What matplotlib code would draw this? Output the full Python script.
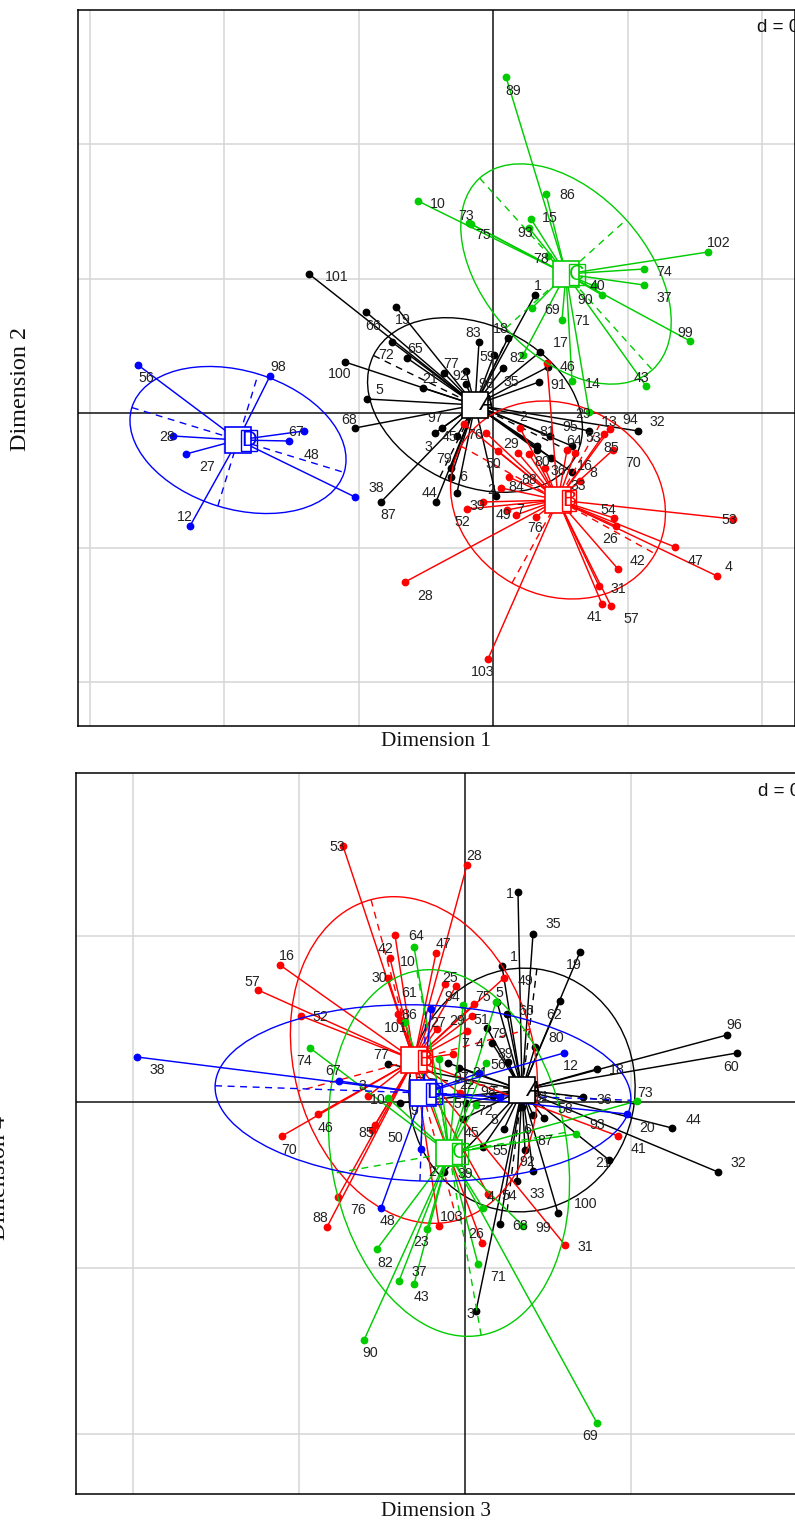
import numpy as np
import matplotlib
matplotlib.use("Agg")
import matplotlib.pyplot as plt
from matplotlib.patches import Ellipse

SANS = "Liberation Sans"
SERIF = "Liberation Serif"
BLACK, RED, GREEN, BLUE = "#000000", "#ff0000", "#00cc00", "#0000ff"
COLORS = [BLACK, RED, GREEN, BLUE]
LETTERS = ["A", "B", "C", "D"]

# ---- panel 1: Dimension 1 / Dimension 2 ----
a12_x = [-184,-127,-97,-101,-86,-148,-126,-70,-49,-27,-27,-14,15,1,10,47,55,46,42,-138,-51,-58,-36,-112,-57,-36,-42,-42,3,96,145,57,44,44,58,79,79]
a12_y = [139,101,106,71,55,51,14,25,40,42,29,71,75,58,45,61,46,31,118,-15,-15,-20,-23,-89,-89,-80,-64,-55,-83,-18,-18,-23,-33,-37,-45,-33,-59]
b12_x = [-29,-7,5,25,36,27,52,16,8,-10,-26,14,23,43,54,74,82,111,117,120,87,121,123,240,182,224,125,106,109,118,-88,-5]
b12_y = [-11,-20,-38,-40,-41,-15,-55,-64,-75,-89,-96,-97,-102,-104,50,-37,-40,-21,-16,-37,-68,-105,-113,-106,-134,-163,-156,-173,-191,-193,-169,-246]
c12_x = [13,53,-75,-22,-24,38,36,55,215,151,151,109,101,39,69,197,153,30,79,96]
c12_y = [336,219,212,189,190,194,185,157,161,144,128,118,127,105,93,72,27,58,32,1]
d12_x = [-355,-223,-189,-204,-320,-307,-138,-303]
d12_y = [48,37,-18,-28,-23,-41,-84,-113]
centres12 = [(-18,8),(65,-87),(73,139),(-255,-27)]
ellipses12 = [(113,80,-26),(111,95,-29),(129,81,-48),(111,69,-17)]
labels12_txt = ["101","66","19","65","72","100","5","21","77","92","83","59","18","1","35","91","17","46","14","82","98","68","97","3","79","6","44","38","87","52","39","49","7","76","84","88","50","29","2","81","95","64","53","13","94","32","85","70","16","8","33","36","80","54","26","53","47","4","42","31","41","57","28","103","2","45","76","89","86","10","73","75","15","93","78","102","74","37","90","40","69","71","99","43","29","56","98","67","28","27","48","12"]
labels12_x = [-156,-120,-90,-78,-107,-153,-114,-63,-42,-33,-20,-6,8,45,18,65,68,74,100,24,-7,-144,-58,-65,-49,-30,-63,-117,-105,-31,-16,10,27,42,23,36,0,18,30,54,77,81,100,117,137,164,118,140,92,100,85,65,49,115,117,236,202,236,145,125,102,138,-68,-10,-2,-43,-18,20,74,-55,-27,-10,57,32,48,226,171,171,92,104,59,89,192,148,90,-347,-215,-197,-326,-286,-182,-308]
labels12_y = [136,87,93,64,58,39,23,34,49,37,80,56,84,127,31,28,70,46,29,55,29,-7,-5,-34,-46,-64,-80,-75,-102,-109,-93,-102,-97,-115,-74,-67,-51,-31,-4,-19,-14,-28,-25,-9,-7,-9,-35,-50,-53,-60,-73,-58,-49,-97,-126,-107,-148,-154,-148,-176,-204,-206,-183,-259,-77,-24,-22,322,218,209,197,178,195,180,154,170,141,115,113,127,103,92,80,35,-1,35,46,-19,-24,-54,-42,-104]

# ---- panel 2: Dimension 3 / Dimension 4 ----
a34_x = [53,68,115,37,95,32,42,22,27,43,70,-17,-6,132,118,79,68,39,57,1,-2,18,60,68,52,-21,93,144,28,272,262,207,253,35,11,-77,-65]
a34_y = [210,168,150,136,101,100,88,74,59,40,55,39,34,33,5,-16,-13,-27,-5,-1,-17,-45,-48,-69,-79,-70,-111,-58,6,49,67,-26,-70,-122,-209,38,-1]
b34_x = [-122,2,-70,-29,-75,-185,-207,-77,-20,-9,39,9,7,2,-28,-12,-97,-147,-93,-90,-164,-5,-183,-138,-127,-26,17,100,153,23,-65,-67]
b34_y = [256,237,167,149,144,137,112,124,118,116,124,98,86,71,73,48,6,-12,-28,-23,86,9,-34,-125,-95,-124,-141,-143,-34,-92,82,88]
c34_x = [-51,-155,-101,-88,-66,-51,-38,13,132,18,58,111,172,21,11,-77,-2,-26,-60,31]
c34_y = [155,54,-238,-147,-179,-182,-127,-162,-321,-106,-124,-32,1,39,-3,4,97,43,80,100]
d34_x = [-328,-126,-34,-84,99,162,14,-44,35]
d34_y = [45,21,93,-106,49,-12,29,-47,5]
centres34 = [(57,12),(-51,42),(-16,-51),(-42,9)]
ellipses34 = [(122,113,83),(166,120,105),(185,118,100),(208,88,-2)]
labels34_txt = ["1","35","19","1","49","5","75","66","62","51","94","25","47","64","10","42","30","61","16","57","53","28","52","86","101","27","29","7","4","79","80","89","56","12","18","96","60","73","38","74","67","77","3","10","46","85","50","70","88","76","48","82","23","103","26","37","43","71","3","90","69","45","55","54","68","99","33","100","31","92","87","21","41","93","58","20","44","32","36","72","8","22","98","31","97","2","39","81","6","9","5","4"]
labels34_x = [45,88,109,49,60,34,18,61,89,16,-13,-15,-22,-49,-57,-80,-86,-56,-178,-213,-128,9,-145,-56,-69,-27,-8,0,15,34,91,40,33,106,152,269,266,180,-308,-161,-132,-84,-103,-87,-140,-99,-70,-176,-145,-107,-77,-80,-44,-13,11,-46,-44,33,5,-95,125,6,35,44,55,78,72,121,120,62,80,138,174,132,100,182,228,273,139,20,29,2,23,15,-4,-33,0,76,62,-51,-8,26]
labels34_y = [208,178,137,145,121,109,105,91,87,82,105,124,158,166,140,153,124,109,146,120,255,246,85,87,74,79,81,58,58,68,64,48,37,36,32,77,35,9,32,41,31,47,16,2,-26,-31,-36,-48,-116,-108,-119,-161,-140,-115,-132,-170,-195,-175,-212,-251,-334,-31,-49,-94,-124,-126,-92,-102,-145,-60,-39,-61,-47,-23,-7,-26,-18,-61,2,-9,-18,17,10,29,24,-70,-72,5,-28,-9,-2,-95]

# ---- layout of the two panels (pixels of the 795 x 1521 canvas) ----
W, H = 795, 1521
fig = plt.figure(figsize=(W/100, H/100), dpi=100)

def make_axes(left, top, right, bottom, xlim, ylim, step, xgrid, ygrid, xlabel, xl_xy, ylabel, yl_xy, d_xy):
    ax = fig.add_axes([left/W, 1-bottom/H, (right-left)/W, (bottom-top)/H])
    ax.set_xlim(*xlim); ax.set_ylim(*ylim)
    ax.set_xticks([]); ax.set_yticks([])
    for k in xgrid:
        ax.axvline(k*step, color="#d6d6d6", lw=1.1, zorder=1)
    for k in ygrid:
        ax.axhline(k*step, color="#d6d6d6", lw=1.1, zorder=1)
    ax.axvline(0, color="#111111", lw=1.1, zorder=2)
    ax.axhline(0, color="#111111", lw=1.1, zorder=2)
    for s in ax.spines.values():
        s.set_linewidth(1.1)
        s.set_zorder(20)
    fig.text(xl_xy[0]/W, 1-xl_xy[1]/H, xlabel, family=SERIF, fontsize=15.4, ha="center", va="center", color="#111111")
    fig.text(yl_xy[0]/W, 1-yl_xy[1]/H, ylabel, family=SERIF, fontsize=17.4, rotation=90, ha="center", va="center", color="#111111")
    ax.text(d_xy[0], d_xy[1], "d = 0.5", family=SANS, fontsize=13.5, ha="left", va="center", zorder=15, color="#111111", clip_on=False)
    return ax

def group(ax, i, xs, ys, centre, ell):
    col = COLORS[i]
    z = 3 + i
    cx, cy = centre
    for x, y in zip(xs, ys):
        ax.plot([cx, x], [cy, y], color=col, lw=1.05, zorder=z, solid_capstyle="round")
    ax.plot(xs, ys, ls="none", marker="o", ms=4.6, color=col, mec=col, zorder=z+0.1)
    a, b, ang = ell
    ax.add_patch(Ellipse((cx, cy), 2*a, 2*b, angle=ang, fill=False, ec=col, lw=1.0, zorder=z))
    t = np.deg2rad(ang)
    ax.plot([cx-a*np.cos(t), cx+a*np.cos(t)], [cy-a*np.sin(t), cy+a*np.sin(t)], color=col, lw=1.0, ls=(0, (5, 4)), zorder=z)
    ax.plot([cx+b*np.sin(t), cx-b*np.sin(t)], [cy-b*np.cos(t), cy+b*np.cos(t)], color=col, lw=1.0, ls=(0, (5, 4)), zorder=z)

def centres_on_top(ax, centres):
    for i, (cx, cy) in enumerate(centres):
        z = 10 + i
        ax.plot([cx], [cy], marker="s", ms=18.5, mfc="white", mec=COLORS[i], mew=1.2, zorder=z)
        box = None if i == 0 else dict(fc="none", ec=COLORS[i], lw=1.0, boxstyle="square,pad=0")
        ax.text(cx+11, cy, LETTERS[i], family=SANS, fontsize=15.5, color=COLORS[i], ha="center", va="center",
                zorder=z+0.1, bbox=box, style="italic" if i == 0 else "normal")

def labels(ax, txt, xs, ys):
    for s, x, y in zip(txt, xs, ys):
        ax.text(x, y, s, family=SANS, fontsize=10.2, color="#222222", ha="center", va="center", zorder=9)

ax1 = make_axes(78, 10, 795, 726, (-415, 302), (-313, 403), 134.5,
                [-3, -2, -1, 1, 2], [-2, -1, 1, 2],
                "Dimension 1", (436, 742), "Dimension 2", (21, 389), (264, 386))
ax2 = make_axes(76, 773, 797, 1494, (-389, 332), (-392, 329), 166,
                [-2, -1, 1, 2], [-2, -1, 1],
                "Dimension 3", (436, 1511), "Dimension 4", (0, 1178), (293, 311))

sets12 = [(a12_x, a12_y), (b12_x, b12_y), (c12_x, c12_y), (d12_x, d12_y)]
sets34 = [(a34_x, a34_y), (b34_x, b34_y), (c34_x, c34_y), (d34_x, d34_y)]
for i in range(4):
    group(ax1, i, sets12[i][0], sets12[i][1], centres12[i], ellipses12[i])
    group(ax2, i, sets34[i][0], sets34[i][1], centres34[i], ellipses34[i])
labels(ax1, labels12_txt, labels12_x, labels12_y)
labels(ax2, labels34_txt, labels34_x, labels34_y)
centres_on_top(ax1, centres12)
centres_on_top(ax2, centres34)

fig.savefig("out.png", dpi=100, facecolor="white")
